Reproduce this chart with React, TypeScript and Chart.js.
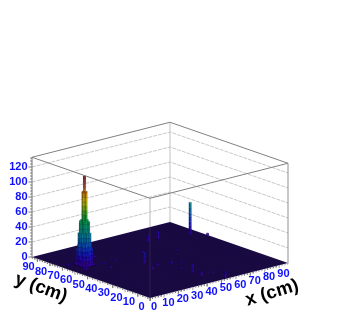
import React, { useEffect, useRef } from "react";
import { Chart, registerables } from "chart.js";

Chart.register(...registerables);

// --- data ------------------------------------------------------------
const xTicks = [0, 10, 20, 30, 40, 50, 60, 70, 80, 90];
const yTicks = [0, 10, 20, 30, 40, 50, 60, 70, 80, 90];
const zTicks = [0, 20, 40, 60, 80, 100, 120];

// main tower: heights per bin, one row per y bin, columns follow towerColumns
const towerColumns = [8, 9, 10, 11, 12, 13, 14, 15, 16];
const towerRowsY = [70, 69, 68, 67, 66, 65, 64, 63, 62];
const towerRow70 = [0, 2, 1, 3, 4, 2, 1, 2, 0];
const towerRow69 = [1, 3, 8, 14, 20, 12, 6, 2, 1];
const towerRow68 = [2, 22, 42, 58, 48, 30, 18, 6, 2];
const towerRow67 = [1, 28, 56, 60, 97, 62, 30, 12, 3];
const towerRow66 = [3, 12, 42, 97, 118, 97, 44, 14, 2];
const towerRow65 = [2, 8, 28, 58, 97, 60, 56, 28, 1];
const towerRow64 = [1, 5, 16, 30, 44, 58, 42, 22, 2];
const towerRow63 = [0, 2, 6, 14, 22, 12, 7, 3, 0];
const towerRow62 = [1, 0, 2, 3, 5, 2, 3, 1, 1];
const towerRows = [towerRow70, towerRow69, towerRow68, towerRow67, towerRow66, towerRow65, towerRow64, towerRow63, towerRow62];

// isolated spikes
const spikeX = [89, 64, 71, 37, 46, 33, 48, 65, 53, 40, 46, 48, 46, 53, 53, 95, 20, 24, 6, 28, 18, 4];
const spikeY = [70, 75, 75, 47, 19, 36, 38, 53, 36, 40, 28, 61, 12, 1, 11, 63, 60, 72, 58, 60, 52, 70];
const spikeZ = [43, 8, 10, 15, 11, 5, 3, 2, 2, 3, 2, 3, 5, 8, 2, 3, 2, 3, 4, 2, 3, 2];

const levelColors = ["#3a0ca8", "#2d10c4", "#1c20d4", "#1438d0", "#1058c8", "#0c74b8", "#0c8cac", "#0c9c94", "#0ca47c", "#10a860",
  "#20a840", "#48b030", "#80b820", "#b8c018", "#d8b810", "#d89810", "#d06810", "#c03810", "#a81810", "#801010"];
const levelStep = 6;

const zMax = 133;
const xMax = 96;
const yMax = 94;

// --- oblique projection of the lego box --------------------------------
const origin = { x: 150, y: 298 };
const xEdge = { x: 138, y: -35 };
const yEdge = { x: -118, y: -41 };
const zUnit = 0.75;

type P = { x: number; y: number };
const project = (x: number, y: number, z: number): P => ({
  x: origin.x + (x / xMax) * xEdge.x + (y / yMax) * yEdge.x,
  y: origin.y + (x / xMax) * xEdge.y + (y / yMax) * yEdge.y - z * zUnit,
});

const shade = (hex: string, f: number) => {
  const n = parseInt(hex.slice(1), 16);
  const c = [(n >> 16) & 255, (n >> 8) & 255, n & 255].map((v) => Math.min(255, Math.round(v * f)));
  return `rgb(${c[0]},${c[1]},${c[2]})`;
};

function buildDatasets() {
  const list: any[] = [];
  const line = (pts: P[], color: string, width = 1, dash: number[] = []) =>
    list.push({ data: pts, showLine: true, fill: false, borderColor: color, borderWidth: width, borderDash: dash, pointRadius: 0, tension: 0, clip: false });
  const poly = (pts: P[], fillColor: string, border = "transparent", width = 0) =>
    list.push({ data: [...pts, pts[0]], showLine: true, fill: "shape", backgroundColor: fillColor, borderColor: border, borderWidth: width, pointRadius: 0, tension: 0, clip: false });

  // back wall grid
  for (const z of zTicks.slice(1)) {
    line([project(0, yMax, z), project(xMax, yMax, z), project(xMax, 0, z)], "#c8c8c8", 1, [4, 1]);
  }
  line([project(xMax, yMax, 0), project(xMax, yMax, zMax)], "#cccccc", 1.2);
  line([project(0, 0, 0), project(0, 0, zMax)], "#c8c8c8", 1.2);

  // floor
  poly([project(0, 0, 0), project(xMax, 0, 0), project(xMax, yMax, 0), project(0, yMax, 0)], "#1c0c48");
  for (let i = 2; i < xMax; i += 2) line([project(i, 0, 0), project(i, yMax, 0)], "rgba(0,0,0,0.18)", 0.4);
  for (let i = 2; i < yMax; i += 2) line([project(0, i, 0), project(xMax, i, 0)], "rgba(0,0,0,0.18)", 0.4);
  line([project(0, 0, 0), project(0, 0, zMax)], "rgba(200,200,200,0.10)", 1.2);

  // bars
  const bins: { x: number; y: number; z: number }[] = [];
  towerRows.forEach((row, r) => row.forEach((z, c) => { if (z > 0) bins.push({ x: towerColumns[c], y: towerRowsY[r], z }); }));
  spikeX.forEach((x, i) => bins.push({ x, y: spikeY[i], z: spikeZ[i] }));
  bins.sort((a, b) => b.x + b.y - (a.x + a.y));
  for (const b of bins) {
    const x0 = b.x, x1 = b.x + 1, y0 = b.y, y1 = b.y + 1;
    let top = 0;
    let level = 0;
    while (top < b.z) {
      const next = Math.min(b.z, (level + 1) * levelStep);
      const col = levelColors[Math.min(level, levelColors.length - 1)];
      poly([project(x0, y0, top), project(x0, y1, top), project(x0, y1, next), project(x0, y0, next)], shade(col, 0.78), "rgba(0,0,0,0.25)", 0.3);
      poly([project(x0, y0, top), project(x1, y0, top), project(x1, y0, next), project(x0, y0, next)], shade(col, 0.95), "rgba(0,0,0,0.25)", 0.3);
      top = next;
      level += 1;
    }
    const col = levelColors[Math.min(level - 1, levelColors.length - 1)];
    poly([project(x0, y0, b.z), project(x1, y0, b.z), project(x1, y1, b.z), project(x0, y1, b.z)], shade(col, 1.1), "rgba(0,0,0,0.3)", 0.3);
  }

  // axis ticks
  for (let v = 0; v <= 132; v += 4) {
    const p = project(0, yMax, v);
    line([p, { x: p.x - (v % 20 === 0 ? 3.5 : 1.8), y: p.y }], "#555555", 0.8);
  }
  for (let v = 0; v <= xMax; v += 2) {
    const p = project(v, 0, 0);
    line([p, { x: p.x - 0.4, y: p.y + (v % 10 === 0 ? 3 : 1.6) }], "#777777", 0.7);
  }
  for (let v = 0; v <= yMax; v += 2) {
    const p = project(0, v, 0);
    line([p, { x: p.x + 0.4, y: p.y + (v % 10 === 0 ? 3 : 1.6) }], "#777777", 0.7);
  }

  // box frame
  line([project(0, yMax, zMax), project(xMax, yMax, zMax), project(xMax, 0, zMax), project(0, 0, zMax), project(0, yMax, zMax)], "#808080", 1);
  line([project(0, yMax, 0), project(0, yMax, zMax)], "#707070", 1);
  line([project(xMax, 0, 0), project(xMax, 0, zMax)], "#909090", 1);

  return list.reverse();
}

const labelsPlugin = {
  id: "legoLabels",
  afterDatasetsDraw(chart: any) {
    const { ctx, scales } = chart;
    const px = (p: P) => ({ x: scales.x.getPixelForValue(p.x), y: scales.y.getPixelForValue(p.y) });
    ctx.save();
    ctx.fillStyle = "#1010ff";
    ctx.font = 'bold 11px "Liberation Sans"';
    ctx.textBaseline = "middle";
    ctx.textAlign = "center";
    for (const t of xTicks) {
      const p = px(project(t, 0, 0));
      ctx.fillText(String(t), p.x + 4, p.y + 8.5);
    }
    for (const t of yTicks) {
      const p = px(project(0, t, 0));
      ctx.fillText(String(t), p.x - 8.5, p.y + 8.5);
    }
    ctx.textAlign = "right";
    for (const t of zTicks) {
      const p = px(project(0, yMax, t));
      ctx.fillText(String(t), p.x - 4.5, p.y);
    }
    ctx.fillStyle = "#000000";
    ctx.font = 'bold 18.5px "Liberation Sans"';
    ctx.textAlign = "center";
    const title = (text: string, x: number, y: number, deg: number) => {
      const p = px({ x, y });
      ctx.save();
      ctx.translate(p.x, p.y);
      ctx.rotate((deg * Math.PI) / 180);
      ctx.fillText(text, 0, 0);
      ctx.restore();
    };
    title("x (cm)", 272, 293, -17);
    title("y (cm)", 41, 288, 20);
    ctx.restore();
  },
};

export default function App() {
  const ref = useRef<HTMLCanvasElement>(null);
  useEffect(() => {
    document.body.style.margin = "0";
    const chart = new Chart(ref.current!, {
      type: "scatter",
      data: { datasets: buildDatasets() },
      options: {
        animation: false,
        responsive: false,
        events: [],
        layout: { padding: 0 },
        plugins: { legend: { display: false }, tooltip: { enabled: false }, title: { display: false } },
        scales: {
          x: { type: "linear", min: 0, max: 345, display: false },
          y: { type: "linear", min: 0, max: 322, reverse: true, display: false },
        },
      },
      plugins: [labelsPlugin],
    });
    return () => chart.destroy();
  }, []);
  return <canvas ref={ref} width={345} height={322} style={{ display: "block", width: 345, height: 322, filter: "blur(0.4px)" }} />;
}
